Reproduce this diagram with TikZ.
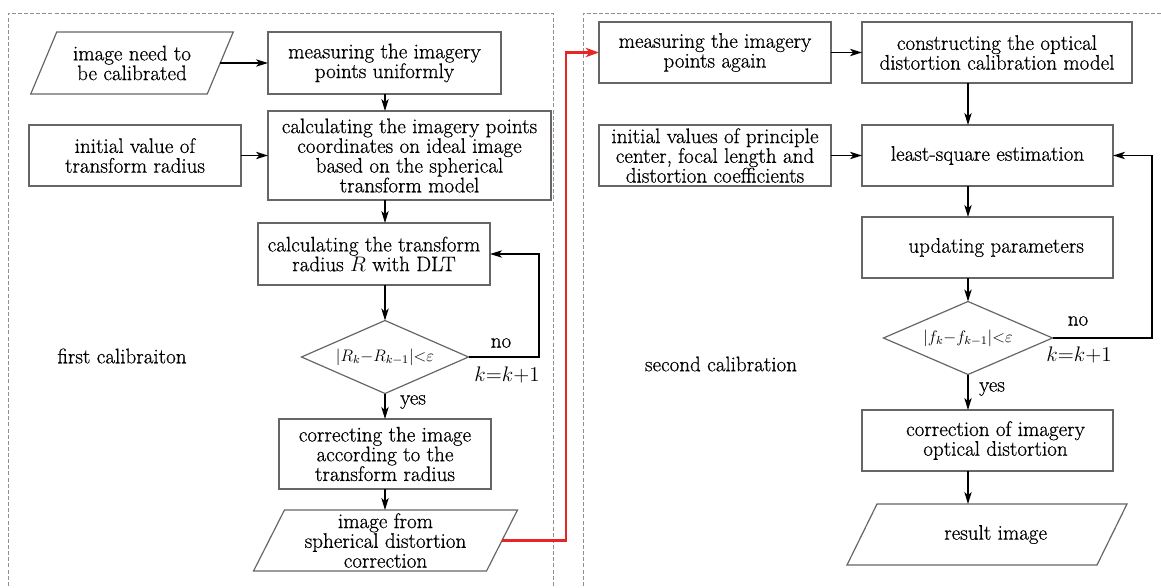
\RequirePackage{fix-cm}
\documentclass[tikz,border=0pt]{standalone}
\usepackage{fontspec}
\setmainfont{Latin Modern Roman}[FakeBold=0.6]
\usetikzlibrary{arrows.meta,shapes.geometric,calc}
\definecolor{boxline}{RGB}{105,100,102}
\definecolor{panel}{RGB}{150,140,142}
\definecolor{flowred}{RGB}{232,36,36}
\tikzset{
  sz/.style 2 args={minimum width={#1*0.75pt}, minimum height={#2*0.75pt}},
  base/.style={font=\fontsize{15.8}{14.8}\selectfont, align=center, inner sep=0pt, outer sep=0pt},
  proc/.style={base, rectangle, draw=boxline, line width=0.9pt},
  io/.style={base, rectangle},
  dec/.style={diamond, aspect=2.3, draw=boxline, line width=0.9pt, inner sep=0pt, outer sep=0pt,
              font=\fontsize{12.5}{12.5}\selectfont},
  lbl/.style={font=\fontsize{15.8}{15.8}\selectfont, inner sep=0pt},
  arr/.style={line width=1.4pt, -{Stealth[length=9pt,width=5.5pt,inset=2.5pt]}},
  redarr/.style={draw=flowred, line width=2.2pt, -{Stealth[length=10pt,width=7pt,inset=3pt]}},
  panelline/.style={draw=panel, line width=0.7pt, dash pattern=on 3pt off 1.6pt},
  slantline/.style={draw=boxline, line width=0.9pt},
}
% outline of an input/output parallelogram around a text node
\newcommand\slantbox[2]{%
  \draw[slantline] ([xshift=#2]#1.north west) -- ([xshift=#2]#1.north east)
    -- ([xshift=-#2]#1.south east) -- ([xshift=-#2]#1.south west) -- cycle;}
\begin{document}
\begin{tikzpicture}[x=0.75pt,y=-0.75pt]
\useasboundingbox (0,0) rectangle (1161,588);
\fill[white] (0,0) rectangle (1161,588);

% panels
\draw[panelline] (8,592) -- (8,13) -- (553,13) -- (553,592);
\draw[panelline] (583,592) -- (583,13) -- (1165,13);

% first calibration
\node[io, sz={176.5}{62}] (in1) at (132,63) {image need to\\be calibrated};
\slantbox{in1}{9.75pt}
\node[proc, sz={233}{62}] (m1) at (384.5,63) {measuring the imagery\\points uniformly};
\node[proc, sz={283}{89}] (c1) at (409.5,155.5) {calculating the imagery points\\coordinates on ideal image\\based on the spherical\\transform model};
\node[proc, sz={212}{61}] (iv1) at (135,155.5) {initial value of\\transform radius};
\node[proc, sz={232}{62}] (dlt) at (374,254) {calculating the transform\\radius $R$ with DLT};
\node[dec, sz={167}{73}] (d1) at (385,357) {$|R_{k}{-}R_{k-1}|{<}\varepsilon$};
\node[proc, sz={212}{70}] (cor) at (385,454) {correcting the image\\according to the\\transform radius};
\node[io, sz={233}{61}] (out1) at (385.5,540.5) {image from\\spherical distortion\\correction};
\slantbox{out1}{11.6pt}
\node[lbl] (lab1) at (122,356) {first calibraiton};

\coordinate (loop1) at (539,357);
\coordinate (red1) at (566,540.5);

\draw[arr] (in1.east) -- (m1.west);
\draw[arr] (m1.south -| d1.north) -- (c1.north -| d1.north);
\draw[arr] (iv1.east) -- (c1.west);
\draw[arr] (c1.south -| d1.north) -- (dlt.north -| d1.north);
\draw[arr] (dlt.south -| d1.north) -- (d1.north);
\draw[arr] (d1.east) -- (loop1) |- (dlt.east);
\draw[arr] (d1.south) -- (cor.north -| d1.south);
\draw[arr] (cor.south -| d1.south) -- (out1.north -| d1.south);
\node[lbl] (no1) at (501,343) {no};
\node[lbl] (inc1) at (507,375) {$k{=}k{+}1$};
\node[lbl] (yes1) at (413,402) {yes};

% second calibration
\node[proc, sz={232}{61}] (m2) at (715,52.5) {measuring the imagery\\points again};
\node[proc, sz={270}{61}] (con) at (997,52.5) {constructing the optical\\distortion calibration model};
\node[proc, sz={232}{61}] (iv2) at (715,155.5) {initial values of principle\\center, focal length and\\distortion coefficients};
\node[proc, sz={251}{61}] (ls) at (987.5,155.5) {least-square estimation};
\node[proc, sz={251}{61}] (up) at (987.5,247.5) {\hspace*{13pt}updating parameters};
\node[dec, sz={169}{73}] (d2) at (968,338) {$|f_{k}{-}f_{k-1}|{<}\varepsilon$};
\node[proc, sz={251}{61}] (cr) at (987.5,440.5) {\hspace*{12pt}correction of imagery\\\hspace*{12pt}optical distortion};
\node[io, sz={250}{61}] (out2) at (987,534.5) {\hspace*{13pt}result image};
\slantbox{out2}{11.25pt}
\node[lbl] (lab2) at (721,364) {second calibration};

\coordinate (loop2) at (1152,338);

\draw[arr] (m2.east) -- (con.west);
\draw[arr] (con.south -| d2.north) -- (ls.north -| d2.north);
\draw[arr] (iv2.east) -- (ls.west);
\draw[arr] (ls.south -| d2.north) -- (up.north -| d2.north);
\draw[arr] (up.south -| d2.north) -- (d2.north);
\draw[arr] (d2.east) -- (loop2) |- (ls.east);
\draw[arr] (d2.south) -- (cr.north -| d2.south);
\draw[arr] (cr.south -| d2.south) -- (out2.north -| d2.south);
\node[lbl] (no2) at (1078,321) {no};
\node[lbl] (inc2) at (1079,355) {$k{=}k{+}1$};
\node[lbl] (yes2) at (992,389) {yes};

% hand-over between the two stages
\draw[redarr] (out1.east) -- (red1) |- (m2.west);
\end{tikzpicture}
\end{document}
